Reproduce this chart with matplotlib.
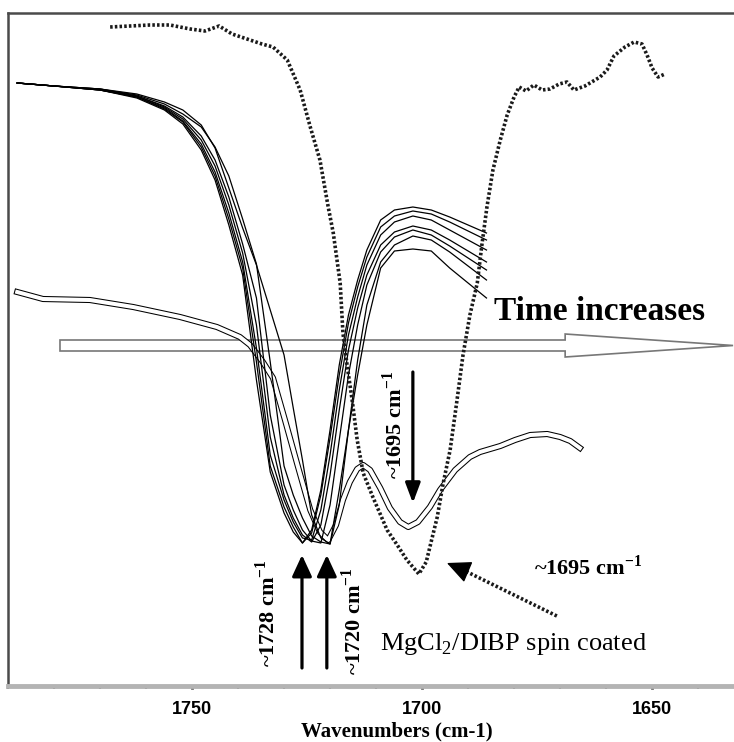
import matplotlib
matplotlib.use("Agg")
import matplotlib.pyplot as plt
import matplotlib.patches as mpatches
from matplotlib.ticker import MultipleLocator

plt.rcParams['font.family'] = ['Liberation Serif', 'DejaVu Serif']

# time-resolved spectra, all read on one wavenumber grid (cm-1)
wn = [1788, 1780, 1770, 1762, 1756, 1752, 1748, 1745, 1742, 1739, 1736, 1733, 1730,
      1728, 1726, 1724, 1722, 1720, 1718, 1716, 1714, 1712, 1709, 1706, 1702, 1698,
      1694, 1690, 1686]
t0 = [603, 600, 596, 588, 576, 562, 536, 506, 461, 411, 306, 214, 173, 154, 143, 156,
      196, 256, 321, 371, 406, 436, 466, 476, 479, 476, 469, 461, 453]
t1 = [603, 600, 596, 589, 577, 564, 539, 510, 467, 418, 324, 220, 179, 159, 143, 153,
      191, 248, 311, 363, 399, 429, 459, 470, 475, 472, 464, 455, 446]
t2 = [603, 600, 596, 589, 578, 565, 542, 514, 473, 424, 338, 231, 186, 164, 148, 146,
      176, 231, 296, 351, 389, 421, 451, 464, 470, 466, 456, 446, 436]
t3 = [603, 600, 596, 590, 579, 567, 546, 520, 481, 433, 361, 249, 191, 168, 151, 144,
      161, 211, 276, 336, 378, 411, 441, 454, 460, 456, 446, 435, 424]
t4 = [603, 600, 597, 590, 580, 569, 550, 526, 489, 442, 388, 271, 201, 176, 156, 145,
      143, 181, 246, 311, 361, 401, 434, 449, 456, 451, 440, 428, 416]
t5 = [603, 600, 597, 591, 582, 572, 559, 539, 510, 467, 422, 324, 220, 191, 168, 150,
      144, 142, 181, 256, 326, 381, 424, 441, 450, 446, 434, 420, 406]
t6 = [603, 600, 597, 592, 584, 576, 561, 538, 498, 458, 421, 376, 331, 278, 226, 171,
      148, 142, 196, 256, 311, 361, 418, 435, 437, 435, 418, 403, 388]
spectra = [t0, t1, t2, t3, t4, t5, t6]

# MgCl2/DIBP spin coated (dotted trace)
wn_mg = [1767.8, 1763.5, 1759.1, 1754.8, 1750.4, 1747.2, 1744.1, 1741.3, 1737.4, 1734.8,
         1732.4, 1729.3, 1726.5, 1724.3, 1722.2, 1720.4, 1719.3, 1717.8, 1717.2, 1716.3,
         1715.2, 1714.1, 1712.8, 1710.7, 1707.6, 1705.4, 1703.3, 1700.7, 1699.1, 1696.7,
         1695.4, 1693.9, 1692.4, 1691.1, 1689.6, 1688.0, 1687.0, 1685.9, 1684.6, 1683.0,
         1681.5, 1680.0, 1678.9, 1677.4, 1675.7, 1673.9, 1672.2, 1670.2, 1668.5, 1667.0,
         1664.6, 1661.3, 1659.8, 1658.3, 1655.9, 1653.9, 1652.2, 1651.1, 1650.0, 1648.7,
         1647.2]
y_mg = [659, 660, 661, 661, 657, 655, 660, 652, 646, 642, 639, 626, 596, 559, 526, 479,
        453, 403, 353, 321, 286, 246, 213, 189, 156, 141, 126, 112, 124, 169, 203, 236,
        286, 331, 371, 403, 441, 479, 516, 546, 571, 589, 599, 595, 601, 596, 597, 602,
        604, 596, 600, 609, 616, 630, 639, 644, 642, 631, 618, 609, 612]

# late spectrum drawn as a hollow (double) line
wn_dbl = [1788.0, 1782.4, 1772.2, 1762.8, 1752.6, 1744.6, 1739.6, 1737.4, 1734.6, 1732.4,
          1729.8, 1727.2, 1724.3, 1722.2, 1720.4, 1718.7, 1717.2, 1715.7, 1714.1, 1712.8,
          1711.3, 1709.1, 1707.0, 1704.8, 1703.0, 1700.9, 1698.3, 1696.1, 1692.8, 1689.6,
          1687.4, 1683.0, 1679.8, 1676.5, 1672.8, 1670.0, 1667.8, 1665.7]
y_dbl = [394, 387, 386, 379, 369, 359, 349, 341, 324, 308, 266, 223, 176, 154, 146, 161,
         186, 204, 217, 221, 216, 198, 178, 164, 159, 164, 179, 196, 216, 229, 234, 240,
         246, 251, 252, 249, 245, 238]

fig = plt.figure(figsize=(7.34, 7.42), dpi=100)
ax = fig.add_axes([8 / 734, 56 / 742, 726 / 734, 673 / 742])

ax.plot(wn_dbl, y_dbl, color='black', lw=4.4, zorder=2)
ax.plot(wn_dbl, y_dbl, color='white', lw=2.9, zorder=2)
for y in spectra:
    ax.plot(wn, y, color='black', lw=0.9, zorder=3)
ax.plot(wn_mg, y_mg, color='#1a1a1a', lw=2.6, linestyle=(0, (0.7, 0.6)), zorder=3)

# big hollow "time" arrow
arr = mpatches.FancyArrow(1778.7, 340.5, 1632.4 - 1778.7, 0, width=11, head_width=23,
                          head_length=36.5, length_includes_head=True,
                          facecolor='white', edgecolor='#777777', lw=1.2,
                          clip_on=False, zorder=1)
ax.add_patch(arr)
ax.text(1684.3, 366, 'Time increases', fontsize=24, fontweight='bold', va='baseline')

# peak markers
head = '-|>,head_length=1.3,head_width=0.6'
ax.annotate('', xy=(1726.1, 131), xytext=(1726.1, 18),
            arrowprops=dict(arrowstyle=head, lw=2.3, color='black', shrinkA=0, shrinkB=0))
ax.annotate('', xy=(1720.7, 131), xytext=(1720.7, 18),
            arrowprops=dict(arrowstyle=head, lw=2.3, color='black', shrinkA=0, shrinkB=0))
ax.annotate('', xy=(1702.0, 183), xytext=(1702.0, 314),
            arrowprops=dict(arrowstyle='-|>,head_length=1.2,head_width=0.45', lw=2.3,
                            color='black', shrinkA=0, shrinkB=0))
ax.text(1733.5, 73, r'~1728 cm$^{\mathregular{-1}}$', rotation=90, fontsize=16,
        fontweight='bold', ha='center', va='center')
ax.text(1715.0, 65, r'~1720 cm$^{\mathregular{-1}}$', rotation=90, fontsize=16,
        fontweight='bold', ha='center', va='center')
ax.text(1706.1, 261, r'~1695 cm$^{\mathregular{-1}}$', rotation=90, fontsize=16,
        fontweight='bold', ha='center', va='center')
ax.text(1675.7, 119, r'~1695 cm$^{\mathregular{-1}}$', fontsize=16, fontweight='bold',
        ha='left', va='center')

# dotted pointer to the spin coated film
ax.plot([1670.7, 1691.5], [70, 117], color='#1a1a1a', lw=2.6, linestyle=(0, (0.7, 0.6)))
ax.annotate('', xy=(1694.6, 123), xytext=(1691.0, 116),
            arrowprops=dict(arrowstyle='-|>,head_length=1.5,head_width=0.7', lw=1,
                            color='black', shrinkA=0, shrinkB=0))
ax.text(1709.1, 42, r'MgCl$_{\mathregular{2}}$/DIBP spin coated', fontsize=19,
        ha='left', va='center')

ax.set_xlim(1790.0, 1632.2)
ax.set_ylim(0, 673)
ax.set_yticks([])
ax.xaxis.set_major_locator(MultipleLocator(50))
ax.xaxis.set_minor_locator(MultipleLocator(10))
ax.tick_params(axis='x', which='major', direction='out', length=2.5, width=2,
               color='black', pad=8, labelsize=13)
ax.tick_params(axis='x', which='minor', direction='out', length=2, width=1.5, color='black')
for lab in ax.get_xticklabels():
    lab.set_fontfamily('Liberation Sans')
    lab.set_fontweight('bold')

ax.spines['right'].set_visible(False)
ax.spines['top'].set_color('#4a4a4a')
ax.spines['top'].set_linewidth(1.8)
ax.spines['left'].set_color('#4a4a4a')
ax.spines['left'].set_linewidth(1.8)
ax.spines['bottom'].set_color('#b4b4b4')
ax.spines['bottom'].set_linewidth(3.5)

fig.text(397 / 734, 1 - 731 / 742, 'Wavenumbers (cm-1)', ha='center', va='center',
         fontsize=15, fontweight='bold')

fig.savefig('out.png', dpi=100)
